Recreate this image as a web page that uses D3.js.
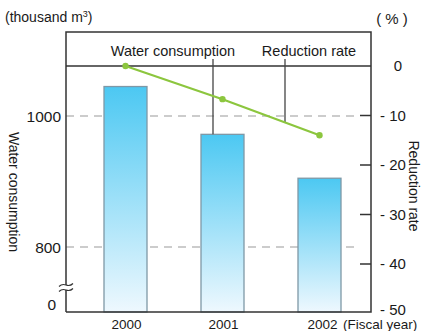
<!DOCTYPE html>
<html><head><meta charset="utf-8">
<script src="https://cdn.jsdelivr.net/npm/d3@7"></script>
<style>body{margin:0;background:#fff}svg{display:block}text{font-family:"Liberation Sans",Arial,sans-serif;fill:#1a1a1a}</style>
</head><body>
<script>
const years = ["2000", "2001", "2002"];
const water = [1045, 972, 905];
const rate = [0, -6.7, -14.0];
const leftTicks = [800, 1000];
const rightTicks = [0, -10, -20, -30, -40, -50];

const W = 424, H = 331;
const X0 = 66, X1 = 371, TOP = 32, BOT = 312, ZERO = 66;
const svg = d3.select("body").append("svg").attr("width", W).attr("height", H);

const x = d3.scalePoint().domain(years).range([125.5, 319.5]);
const yL = d3.scaleLinear().domain([800, 1000]).range([247, 116]);
const yR = d3.scaleLinear().domain([-50, 0]).range([313.5, 66]);
const bw = 43;

const defs = svg.append("defs");
const g = defs.append("linearGradient").attr("id", "bg").attr("x1", 0).attr("y1", 0).attr("x2", 0).attr("y2", 1);
g.append("stop").attr("offset", "0%").attr("stop-color", "#4cc8f2");
g.append("stop").attr("offset", "100%").attr("stop-color", "#eef8fe");

// dashed grid
svg.selectAll(".grid").data(leftTicks).enter().append("line")
  .attr("x1", X0).attr("x2", 360).attr("y1", d => yL(d)).attr("y2", d => yL(d))
  .attr("stroke", "#9a9a9a").attr("stroke-width", 1.2).attr("stroke-dasharray", "8,6");

// bars
svg.selectAll(".bar").data(water).enter().append("rect")
  .attr("x", (d, i) => x(years[i]) - bw / 2).attr("width", bw)
  .attr("y", d => yL(d)).attr("height", d => BOT - yL(d))
  .attr("fill", "url(#bg)").attr("stroke", "#7f98a6").attr("stroke-width", 1.3);

// frame
const fr = svg.append("g").attr("stroke", "#333").attr("stroke-width", 1.5).attr("fill", "none");
fr.append("path").attr("d", `M${X0},${BOT}V${TOP}H${X1}V${BOT}H${X0}`);
fr.append("line").attr("x1", X0).attr("x2", X1).attr("y1", ZERO).attr("y2", ZERO);

// right ticks
svg.selectAll(".rt").data(rightTicks.filter(d => d < 0 && d > -50)).enter().append("line")
  .attr("x1", 360).attr("x2", X1).attr("y1", d => yR(d)).attr("y2", d => yR(d))
  .attr("stroke", "#333").attr("stroke-width", 1.5);

// axis break
svg.append("rect").attr("x", X0 - 3).attr("y", 285).attr("width", 6).attr("height", 5).attr("fill", "#fff");
[285, 290].forEach(yy => {
  svg.append("path").attr("d", `M${X0 - 7},${yy + 1.5} q3,-3 7,-1.5 t7,-1.5`).attr("fill", "none").attr("stroke", "#333").attr("stroke-width", 1.1);
});

// leader lines
svg.append("line").attr("x1", 213).attr("x2", 213).attr("y1", 59).attr("y2", yL(water[1])).attr("stroke", "#444").attr("stroke-width", 1.3);
const lx = 285;
const ly = yR(rate[1]) + (yR(rate[2]) - yR(rate[1])) * (lx - x(years[1])) / (x(years[2]) - x(years[1]));
svg.append("line").attr("x1", lx).attr("x2", lx).attr("y1", 59).attr("y2", ly).attr("stroke", "#444").attr("stroke-width", 1.3);

// rate line
const line = d3.line().x((d, i) => x(years[i])).y(d => yR(d));
svg.append("path").datum(rate).attr("d", line).attr("fill", "none").attr("stroke", "#8cc63e").attr("stroke-width", 2.2);
svg.selectAll(".pt").data(rate).enter().append("circle")
  .attr("cx", (d, i) => x(years[i])).attr("cy", d => yR(d)).attr("r", 3.2).attr("fill", "#8cc63e");

// legend texts
svg.append("text").attr("x", 173).attr("y", 56).attr("text-anchor", "middle").attr("font-size", 14.5).text("Water consumption");
svg.append("text").attr("x", 309).attr("y", 56).attr("text-anchor", "middle").attr("font-size", 14.5).text("Reduction rate");

// left labels
svg.selectAll(".ll").data(leftTicks).enter().append("text")
  .attr("x", 61).attr("y", d => yL(d) + 5.5).attr("text-anchor", "end").attr("font-size", 15.5).text(d => d);
svg.append("text").attr("x", 56).attr("y", 310).attr("text-anchor", "end").attr("font-size", 15.5).text("0");

// right labels
svg.selectAll(".rl").data(rightTicks).enter().append("text")
  .attr("x", d => d === 0 ? 398 : 380).attr("y", d => d === -50 ? 315 : yR(d) + 5)
  .attr("text-anchor", d => d === 0 ? "middle" : "start").attr("font-size", 15)
  .text(d => d === 0 ? "0" : "- " + Math.abs(d));

// x labels
svg.selectAll(".xl").data(years).enter().append("text")
  .attr("x", (d, i) => x(d) + (i === 2 ? 3 : 1)).attr("y", 329).attr("text-anchor", "middle").attr("font-size", 13.5).text(d => d);
svg.append("text").attr("x", 343).attr("y", 329).attr("font-size", 13.5).text("(Fiscal year)");

// units
const u = svg.append("text").attr("x", 5).attr("y", 22).attr("font-size", 14);
u.append("tspan").text("(thousand m");
u.append("tspan").attr("dy", -5).attr("font-size", 9).text("3");
u.append("tspan").attr("dy", 5).text(")");
svg.append("text").attr("x", 392).attr("y", 24).attr("text-anchor", "middle").attr("font-size", 15).text("( % )");

// axis titles
svg.append("text").attr("transform", "translate(9,192) rotate(90)").attr("text-anchor", "middle").attr("font-size", 14).text("Water consumption");
svg.append("text").attr("transform", "translate(409,186) rotate(90)").attr("text-anchor", "middle").attr("font-size", 14).text("Reduction rate");
</script>
</body></html>
